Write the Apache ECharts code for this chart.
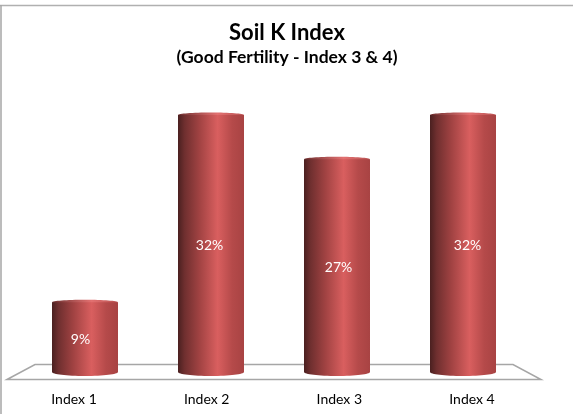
<!DOCTYPE html>
<html>
<head>
<meta charset="utf-8">
<style>
  html, body { margin: 0; padding: 0; background: #fff; }
  #chart { width: 573px; height: 414px; }
</style>
<script src="https://cdn.jsdelivr.net/npm/echarts@6/dist/echarts.min.js"></script>
</head>
<body>
<div id="chart"></div>
<script>
const categories = ['Index 1', 'Index 2', 'Index 3', 'Index 4']
const heights = [8.7, 32, 26.5, 32]
const labels = ['9%', '32%', '27%', '32%']

const chart = echarts.init(document.getElementById('chart'))

const bodyGradient = new echarts.graphic.LinearGradient(0, 0, 1, 0, [
  { offset: 0, color: '#4a2020' },
  { offset: 0.1, color: '#6f2f2f' },
  { offset: 0.32, color: '#a04242' },
  { offset: 0.6, color: '#d95f5f' },
  { offset: 0.82, color: '#b54a4a' },
  { offset: 1, color: '#a84343' },
])
const topGradient = new echarts.graphic.LinearGradient(0, 0, 1, 0, [
  { offset: 0, color: '#6f3030' },
  { offset: 0.6, color: '#e27070' },
  { offset: 1, color: '#b95252' },
])

const renderCylinder = (params, api) => {
  const index = api.value(0)
  const top = api.coord([index, api.value(1)])
  const base = api.coord([index, 0])
  const halfWidth = 33
  // 数据标签的间距比柱子略宽
  const labelX = 274 + (top[0] - 274) * 129 / 126
  return {
    type: 'group',
    children: [
      {
        type: 'ellipse',
        shape: { cx: top[0], cy: base[1], rx: halfWidth, ry: 4 },
        style: { fill: bodyGradient },
      },
      {
        type: 'ellipse',
        shape: { cx: top[0], cy: top[1], rx: halfWidth, ry: 2.5 },
        style: { fill: topGradient },
      },
      {
        type: 'rect',
        shape: { x: top[0] - halfWidth, y: top[1], width: halfWidth * 2, height: base[1] - top[1] },
        style: { fill: bodyGradient },
      },
      {
        type: 'text',
        style: {
          x: labelX,
          y: (top[1] + base[1]) / 2 + 2,
          text: labels[index],
          fill: '#ffffff',
          font: '14px Lato',
          align: 'center',
          verticalAlign: 'middle',
        },
      },
    ],
  }
}

chart.setOption({
  animation: false,
  backgroundColor: '#ffffff',
  title: {
    text: 'Soil K Index',
    subtext: '(Good Fertility - Index 3 & 4)',
    left: 287,
    top: 22,
    padding: 0,
    textAlign: 'center',
    itemGap: 4,
    textStyle: { fontFamily: 'Lato', fontSize: 22, fontWeight: 'bold', color: '#000000' },
    subtextStyle: { fontFamily: 'Lato', fontSize: 17.5, fontWeight: 'bold', color: '#000000' },
  },
  // 第一个网格放柱子，第二个网格只放地面前沿上的类目标签
  grid: [
    { left: 22, width: 504, top: 115, bottom: 42 },
    { left: 7.7, width: 530.6, top: 115, bottom: 42 },
  ],
  xAxis: [
    {
      type: 'category',
      data: categories,
      axisLine: { show: false },
      axisTick: { show: false },
      axisLabel: { show: false },
    },
    {
      type: 'category',
      gridIndex: 1,
      data: categories,
      axisLine: { show: false },
      axisTick: { show: false },
      axisLabel: { color: '#000000', fontFamily: 'Lato', fontSize: 14, margin: 20 },
    },
  ],
  yAxis: [
    { type: 'value', min: 0, max: 32, show: false },
    { type: 'value', gridIndex: 1, min: 0, max: 32, show: false },
  ],
  graphic: [
    {
      type: 'polyline',
      shape: { points: [[0, 5.5], [573, 5.5]] },
      style: { stroke: '#b0b0b0', lineWidth: 1.5, fill: null },
    },
    {
      type: 'polyline',
      shape: { points: [[1, 5], [1, 414]] },
      style: { stroke: '#a6a6a6', lineWidth: 1.5, fill: null },
    },
    {
      type: 'polygon',
      shape: { points: [[7, 379.5], [35, 364.5], [513, 364.5], [541, 379.5]] },
      style: { stroke: '#a6a6a6', lineWidth: 1.5, fill: '#ffffff' },
    },
  ],
  series: [
    {
      type: 'custom',
      renderItem: renderCylinder,
      clip: false,
      encode: { x: 0, y: 1 },
      data: heights.map((v, i) => [i, v]),
      z: 5,
    },
  ],
})
</script>
</body>
</html>
